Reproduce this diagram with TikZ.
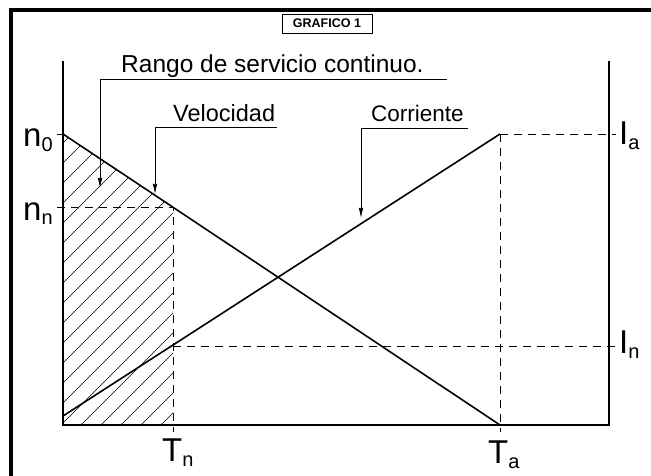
\documentclass[tikz,border=0pt]{standalone}
\usepackage{fontspec}
\setmainfont{Liberation Sans}
\usetikzlibrary{arrows.meta}
\newcommand{\axlab}[2]{{\fontsize{33}{33}\selectfont #1}\raisebox{-5pt}{\fontsize{20}{20}\selectfont #2}}
\tikzset{
  heavy/.style={line width=1.6pt},
  guide/.style={line width=0.8pt, dash pattern=on 8pt off 6pt},
  leader/.style={line width=0.7pt, -{Latex[length=10pt,width=4.5pt]}},
  hatch/.style={line width=0.5pt},
  lbl/.style={inner sep=0pt, anchor=base west, font=\fontsize{23.5}{23.5}\selectfont},
  axl/.style={inner sep=0pt, anchor=base west},
}

\begin{document}
\begin{tikzpicture}[x=1pt,y=-1pt]
    \useasboundingbox (0,0) rectangle (651,476);
    \draw[line width=4pt] (11,476) -- (11,10) -- (651,10);
    \node[draw, line width=0.8pt, minimum width=90pt, minimum height=19pt,
      font=\bfseries\fontsize{12.5}{12.5}\selectfont] (title) at (327,23.5) {GRAFICO 1};
    \coordinate (o) at (63,425);
    \coordinate (ytop) at (63,61);
    \coordinate (rb) at (609,425);
    \coordinate (rt) at (609,61);
    \coordinate (n0) at (63,134);
    \coordinate (n0t) at (57,134);
    \coordinate (nnt) at (57,207);
    \coordinate (nn) at (173,207);
    \coordinate (tnb) at (173,425);
    \coordinate (tnt) at (173,432);
    \coordinate (ta) at (500,425);
    \coordinate (tat) at (500,432);
    \coordinate (ia) at (500,134);
    \coordinate (iat) at (616,134);
    \coordinate (in) at (173,346);
    \coordinate (int) at (616,346);
    \coordinate (i0) at (63,416);
    \begin{scope}
      \clip (n0) -- (nn) -- (tnb) -- (o) -- cycle;
      \foreach \s in {-299,-279,...,181}
        \draw[hatch] (\s,425) -- ++(400,-400);
    \end{scope}
    \draw[guide] (nnt) -- (nn) -- (tnt);
    \draw[guide] (ia) -- (iat);
    \draw[guide] (ia) -- (tat);
    \draw[guide] (in) -- (int);
    \draw[line width=0.8pt] (n0t) -- (n0);
    \draw[heavy] (ytop) -- (o) -- (rb) -- (rt);
    \draw[heavy] (n0) -- (ta);
    \draw[heavy] (i0) -- (ia);
    \node[axl] (n0lab) at (23,147) {\axlab{n}{0}};
    \node[axl] (nnlab) at (23,220) {\axlab{n}{n}};
    \node[axl] (ialab) at (619,145) {\axlab{I}{a}};
    \node[axl] (inlab) at (619,353) {\axlab{I}{n}};
    \node[axl] (tnlab) at (162,461) {\axlab{T}{n}};
    \node[axl] (talab) at (488,463) {\axlab{T}{a}};
    \node[lbl, font=\fontsize{24.5}{24.5}\selectfont] (rango) at (121,73) {Rango de servicio continuo.};
    \node[lbl] (vel) at (173,122) {Velocidad};
    \node[lbl, font=\fontsize{22.5}{22.5}\selectfont] (corr) at (371,122) {Corriente};
    \coordinate (rangoend) at (447,79);
    \coordinate (rangocorner) at (100,79);
    \coordinate (rangotip) at (100,188);
    \coordinate (velend) at (277,127);
    \coordinate (velcorner) at (155,127);
    \coordinate (veltip) at (155,194);
    \coordinate (corrend) at (468,128);
    \coordinate (corrcorner) at (361,128);
    \coordinate (corrtip) at (361,218);
    \draw[leader] (rangoend) -- (rangocorner) -- (rangotip);
    \draw[leader] (velend) -- (velcorner) -- (veltip);
    \draw[leader] (corrend) -- (corrcorner) -- (corrtip);
\end{tikzpicture}
\end{document}
